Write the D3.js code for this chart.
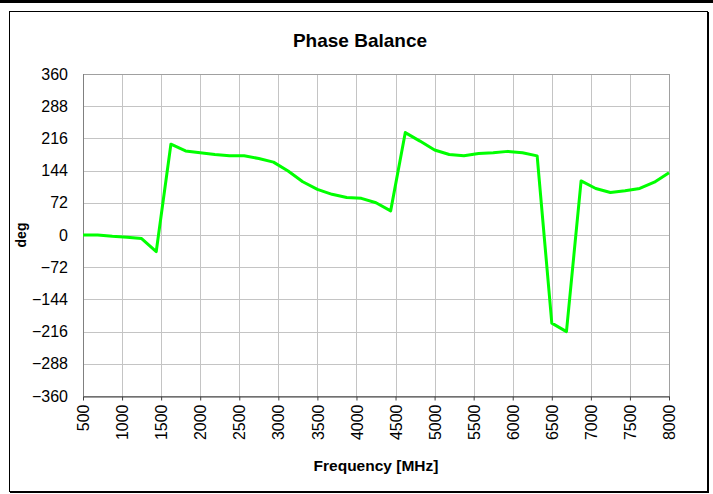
<!DOCTYPE html>
<html><head><meta charset="utf-8">
<script src="https://cdn.jsdelivr.net/npm/d3@7"></script>
<style>body{margin:0;background:#fff}svg{display:block}text{font-family:"Liberation Sans",Arial,sans-serif}</style>
</head><body>
<script>
const freqs = [500,687.5,875,1062.5,1250,1437.5,1625,1812.5,2000,2187.5,2375,2562.5,2750,2937.5,3125,3312.5,3500,3687.5,3875,4062.5,4250,4437.5,4625,4812.5,5000,5187.5,5375,5562.5,5750,5937.5,6125,6312.5,6500,6687.5,6875,7062.5,7250,7437.5,7625,7812.5,8000];
const phase = [0,0,-3,-5,-8,-37,203,188,184,180,177,177,171,163,143,119,102,91,84,82,72,54,229,210,190,180,177,182,184,187,184,177,-197,-216,121,104,95,99,104,118,139];
const xTicks = [500,1000,1500,2000,2500,3000,3500,4000,4500,5000,5500,6000,6500,7000,7500,8000];
const yTicks = [-360,-288,-216,-144,-72,0,72,144,216,288,360];

const W=713,H=494;
const svg=d3.select("body").append("svg").attr("width",W).attr("height",H);
svg.append("rect").attr("x",0).attr("y",0).attr("width",W).attr("height",3).attr("fill","#000");
svg.append("rect").attr("x",9.5).attr("y",11.5).attr("width",698).attr("height",480).attr("fill","#fff").attr("stroke","#000").attr("stroke-width",1);
svg.append("line").attr("x1",708.5).attr("x2",708.5).attr("y1",12).attr("y2",493).attr("stroke","#000");
svg.append("line").attr("x1",10).attr("x2",709).attr("y1",492.5).attr("y2",492.5).attr("stroke","#000");

const L=83,R=669,T=74,B=396;
const x=d3.scaleLinear().domain([500,8000]).range([L,R]);
const y=d3.scaleLinear().domain([-360,360]).range([B,T]);

const g=svg.append("g");
g.selectAll(".vg").data(xTicks).enter().append("line")
 .attr("x1",d=>Math.round(x(d))+0.5).attr("x2",d=>Math.round(x(d))+0.5).attr("y1",T).attr("y2",B)
 .attr("stroke","#c4c4c4").attr("stroke-width",1);
g.selectAll(".hg").data(yTicks).enter().append("line")
 .attr("x1",L).attr("x2",R).attr("y1",d=>Math.round(y(d))+0.5).attr("y2",d=>Math.round(y(d))+0.5)
 .attr("stroke","#c4c4c4").attr("stroke-width",1);
g.append("rect").attr("x",L+0.5).attr("y",T+0.5).attr("width",R-L).attr("height",B-T).attr("fill","none").attr("stroke","#a0a0a0").attr("stroke-width",1);
g.append("line").attr("x1",L+0.5).attr("x2",L+0.5).attr("y1",T).attr("y2",B).attr("stroke","#808080");

const xa=d3.axisBottom(x).tickValues(xTicks).tickSize(4).tickSizeOuter(0).tickFormat(d3.format("d"));
const xg=svg.append("g").attr("transform",`translate(0,${B+0.5})`).call(xa);
xg.select(".domain").attr("stroke","#404040");
xg.selectAll(".tick line").attr("stroke","#404040");
xg.selectAll("text").attr("font-size",16).attr("fill","#000")
 .attr("transform","rotate(-90)").attr("text-anchor","end").attr("x",-8).attr("y",0).attr("dy","0.35em");

const ya=d3.axisLeft(y).tickValues(yTicks).tickSize(0).tickPadding(15).tickFormat(d3.format("d"));
const yg=svg.append("g").attr("transform",`translate(${L},0)`).call(ya);
yg.select(".domain").remove();
yg.selectAll("text").attr("font-size",16).attr("fill","#000");

const line=d3.line().x((d,i)=>x(freqs[i])).y(d=>y(d));
svg.append("path").datum(phase).attr("d",line).attr("fill","none").attr("stroke","#00ff00").attr("stroke-width",3).attr("stroke-linejoin","round");

svg.append("text").attr("x",360).attr("y",47).attr("text-anchor","middle").attr("font-size",19).attr("font-weight","bold").text("Phase Balance");
svg.append("text").attr("x",376).attr("y",471).attr("text-anchor","middle").attr("font-size",15.5).attr("font-weight","bold").text("Frequency [MHz]");
svg.append("text").attr("transform","translate(26,235) rotate(-90)").attr("text-anchor","middle").attr("font-size",14).attr("font-weight","bold").text("deg");
</script>
</body></html>
